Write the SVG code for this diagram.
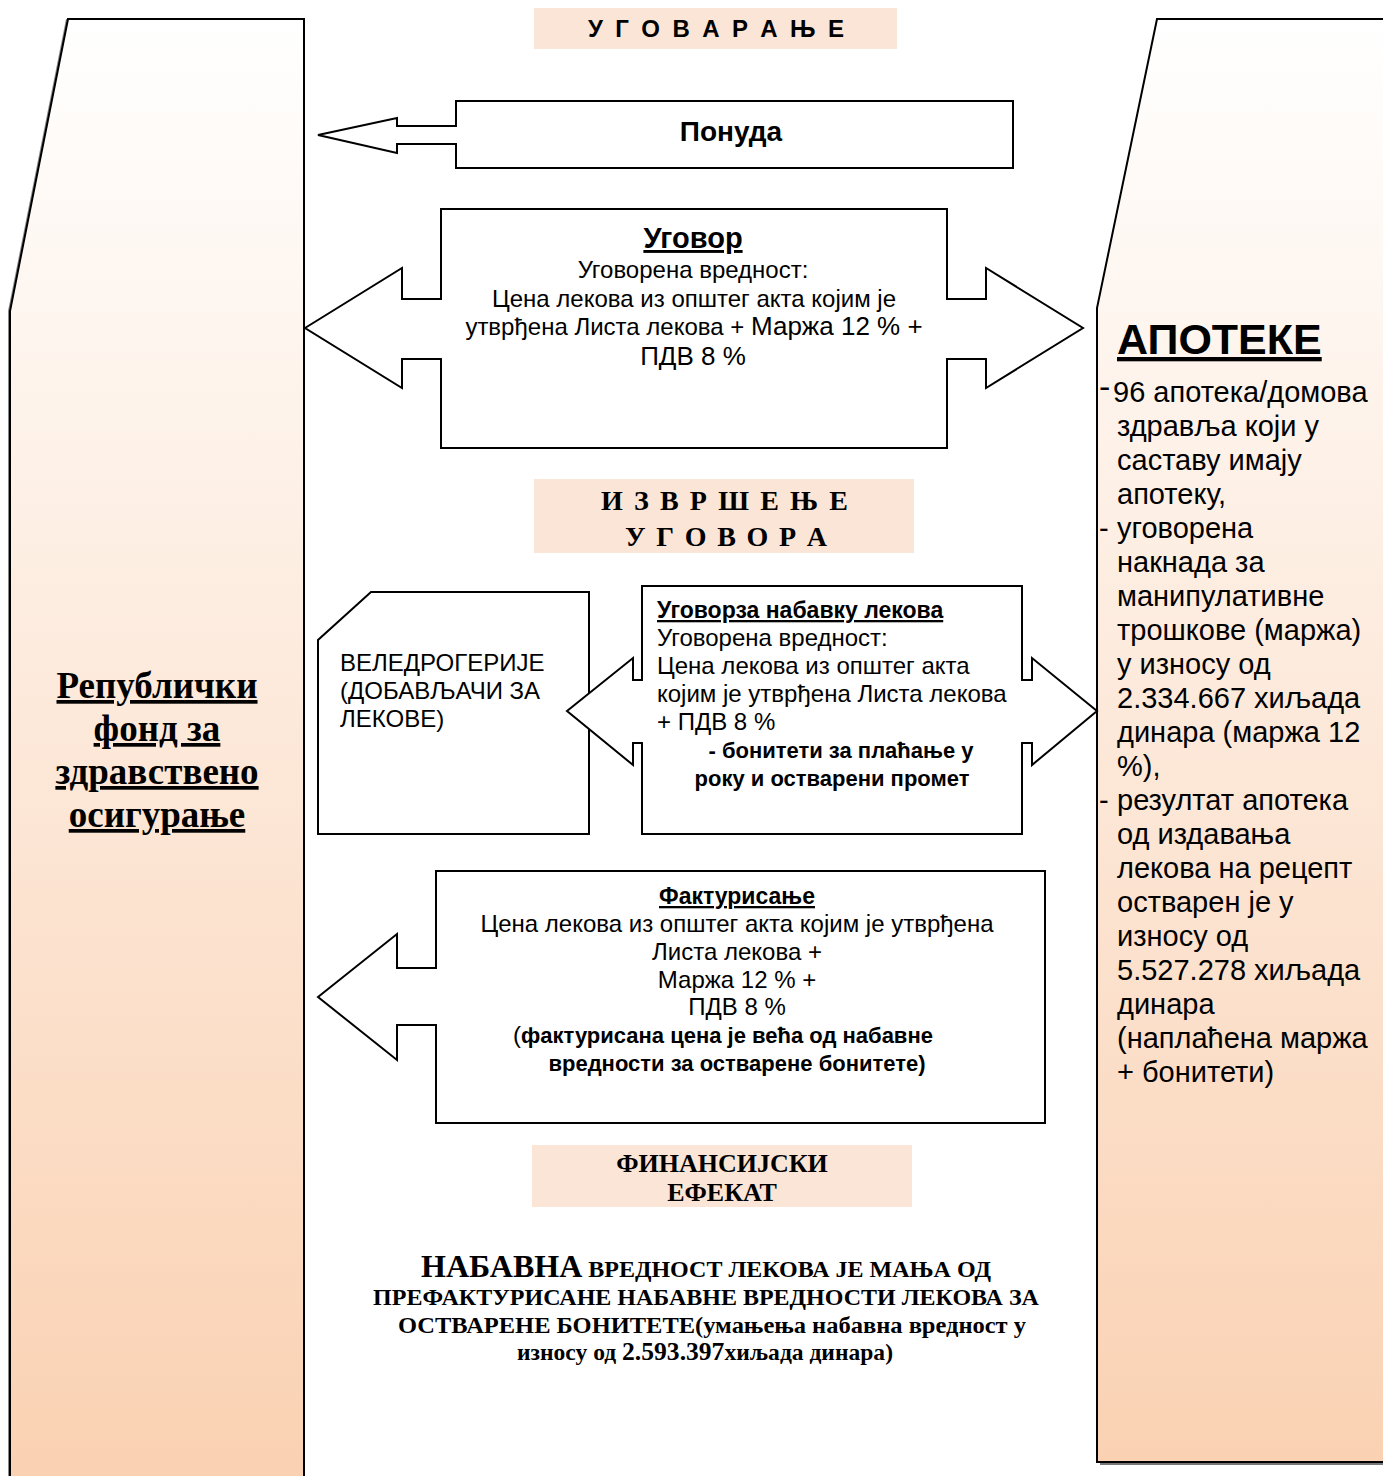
<svg xmlns="http://www.w3.org/2000/svg" width="1383" height="1476" viewBox="0 0 1383 1476">
<defs>
<linearGradient id="colGrad" gradientUnits="userSpaceOnUse" x1="0" y1="19" x2="0" y2="1476">
<stop offset="0" stop-color="#FFFFFF"/>
<stop offset="1" stop-color="#FAD1B2"/>
</linearGradient>
</defs>
<style>
.shape{fill:#FFFFFF;stroke:#000;stroke-width:2;stroke-linejoin:miter}
.col{fill:url(#colGrad);stroke:#000;stroke-width:2}
.hdr{fill:#FBE5D6}
.a{font-family:"Liberation Sans",Arial,sans-serif;fill:#000}
.t{font-family:"Liberation Serif","Times New Roman",serif;fill:#000;font-weight:bold}
.b{font-weight:bold}
.u{text-decoration:underline}
.c{text-anchor:middle}
</style>
<rect width="1383" height="1476" fill="#FFFFFF"/>

<g id="fond">
<polygon points="66,19 302,19 302,1480 8,1480 8,311" fill="#888"/>
<polygon class="col" points="68,19 304,19 304,1480 10,1480 10,311"/>
<text class="t u c" font-size="37" x="157" y="698">Републички</text>
<text class="t u c" font-size="37" x="157" y="741">фонд за</text>
<text class="t u c" font-size="37" x="157" y="784">здравствено</text>
<text class="t u c" font-size="37" x="157" y="827">осигурање</text>
</g>

<g id="apoteke">
<polygon points="1160,22 1390,22 1390,1465 1100,1465 1100,311" fill="#777"/>
<polygon class="col" points="1157,19 1390,19 1390,1462 1097,1462 1097,308"/>
<text class="a b u" font-size="43" x="1117" y="354">АПОТЕКЕ</text>
<g class="a" font-size="29">
<text x="1099" y="398" font-size="34">-</text>
<text x="1113" y="402">96 апотека/домова</text>
<text x="1117" y="436">здравља који у</text>
<text x="1117" y="470">саставу имају</text>
<text x="1117" y="504">апотеку,</text>
<text x="1099" y="538">-</text>
<text x="1117" y="538">уговорена</text>
<text x="1117" y="572">накнада за</text>
<text x="1117" y="606">манипулативне</text>
<text x="1117" y="640">трошкове (маржа)</text>
<text x="1117" y="674">у износу од</text>
<text x="1117" y="708">2.334.667 хиљада</text>
<text x="1117" y="742">динара (маржа 12</text>
<text x="1117" y="776">%),</text>
<text x="1099" y="810">-</text>
<text x="1117" y="810">резултат апотека</text>
<text x="1117" y="844">од издавања</text>
<text x="1117" y="878">лекова на рецепт</text>
<text x="1117" y="912">остварен је у</text>
<text x="1117" y="946">износу од</text>
<text x="1117" y="980">5.527.278 хиљада</text>
<text x="1117" y="1014">динара</text>
<text x="1117" y="1048">(наплаћена маржа</text>
<text x="1117" y="1082">+ бонитети)</text>
</g>
</g>

<g id="ugovaranje">
<rect class="hdr" x="534" y="8" width="363" height="41"/>
<text class="a b" font-size="24" x="588" y="37" textLength="256" lengthAdjust="spacing">У Г О В А Р А Њ Е</text>
</g>

<g id="ponuda">
<polygon class="shape" points="318,135 397,118 397,126 456,126 456,101 1013,101 1013,168 456,168 456,144 397,144 397,153"/>
<text class="a b c" font-size="28" x="731" y="141">Понуда</text>
</g>

<g id="ugovor">
<polygon class="shape" points="305,328 402,268 402,299 441,299 441,209 947,209 947,299 986,299 986,268 1083,328 986,388 986,359 947,359 947,448 441,448 441,359 402,359 402,388"/>
<text class="a b u c" font-size="29" x="693" y="248">Уговор</text>
<text class="a c" font-size="24" x="693" y="278">Уговорена вредност:</text>
<text class="a c" font-size="24" x="694" y="307">Цена лекова из општег акта којим је</text>
<text class="a c" font-size="24" x="694" y="335">утврђена Листа лекова + <tspan font-size="26">Маржа 12 % +</tspan></text>
<text class="a c" font-size="26" x="693" y="365">ПДВ  8 %</text>
</g>

<g id="izvrsenje">
<rect class="hdr" x="534" y="479" width="380" height="74"/>
<text class="t" font-size="28" x="601" y="510" textLength="247" lengthAdjust="spacing">И З В Р Ш Е Њ Е</text>
<text class="t" font-size="28" x="625" y="546" textLength="202" lengthAdjust="spacing">У Г О В О Р А</text>
</g>

<g id="veledrogerije">
<polygon class="shape" points="371,592 589,592 589,834 318,834 318,640"/>
<text class="a" font-size="24" x="340" y="671">ВЕЛЕДРОГЕРИЈЕ</text>
<text class="a" font-size="24" x="340" y="699">(ДОБАВЉАЧИ ЗА</text>
<text class="a" font-size="24" x="340" y="727">ЛЕКОВЕ)</text>
</g>

<g id="ugovor-nabavka">
<polygon class="shape" points="567,711 633,658 633,680 642,680 642,586 1022,586 1022,680 1032,680 1032,658 1097,711 1032,765 1032,743 1022,743 1022,834 642,834 642,743 633,743 633,765"/>
<text class="a b u" font-size="23" x="657" y="618">Уговорза набавку лекова</text>
<text class="a" font-size="24" x="657" y="646">Уговорена вредност:</text>
<text class="a" font-size="24" x="657" y="674">Цена лекова из општег акта</text>
<text class="a" font-size="24" x="657" y="702">којим је утврђена Листа лекова</text>
<text class="a" font-size="24" x="657" y="730">+ ПДВ  8 %</text>
<text class="a b c" font-size="22" x="841" y="758">- бонитети за плаћање у</text>
<text class="a b c" font-size="22" x="832" y="786">року и остварени промет</text>
</g>

<g id="fakturisanje">
<polygon class="shape" points="318,997 397,934 397,968 436,968 436,871 1045,871 1045,1123 436,1123 436,1025 397,1025 397,1060"/>
<text class="a b u c" font-size="23" x="737" y="904">Фактурисање</text>
<text class="a c" font-size="24" x="737" y="932">Цена лекова из општег акта којим је утврђена</text>
<text class="a c" font-size="24" x="737" y="960">Листа лекова  +</text>
<text class="a c" font-size="24" x="737" y="988">Маржа 12 % +</text>
<text class="a c" font-size="24" x="737" y="1015">ПДВ  8 %</text>
<text class="a c" font-size="24" x="723" y="1043">(<tspan class="b" font-size="22">фактурисана цена је већа од набавне</tspan></text>
<text class="a b c" font-size="22" x="737" y="1071">вредности за остварене бонитете)</text>
</g>

<g id="finansijski">
<rect class="hdr" x="532" y="1145" width="380" height="62"/>
<text class="t c" font-size="26" x="722" y="1172">ФИНАНСИЈСКИ</text>
<text class="t c" font-size="26" x="722" y="1201">ЕФЕКАТ</text>
</g>

<g id="zakljucak">
<text class="t c" font-size="24" x="706" y="1277"><tspan font-size="32">НАБАВНА</tspan> ВРЕДНОСТ ЛЕКОВА ЈЕ МАЊА ОД</text>
<text class="t c" font-size="24" x="706" y="1305">ПРЕФАКТУРИСАНЕ НАБАВНЕ ВРЕДНОСТИ ЛЕКОВА ЗА</text>
<text class="t" font-size="24" x="398" y="1333" textLength="628" lengthAdjust="spacingAndGlyphs">ОСТВАРЕНЕ БОНИТЕТЕ(умањења набавна вредност у</text>
<text class="t" font-size="23" x="517" y="1360" textLength="376" lengthAdjust="spacingAndGlyphs">износу од <tspan font-size="25">2.593.397</tspan>хиљада динара)</text>
</g>

<g id="connectors"></g>
</svg>
